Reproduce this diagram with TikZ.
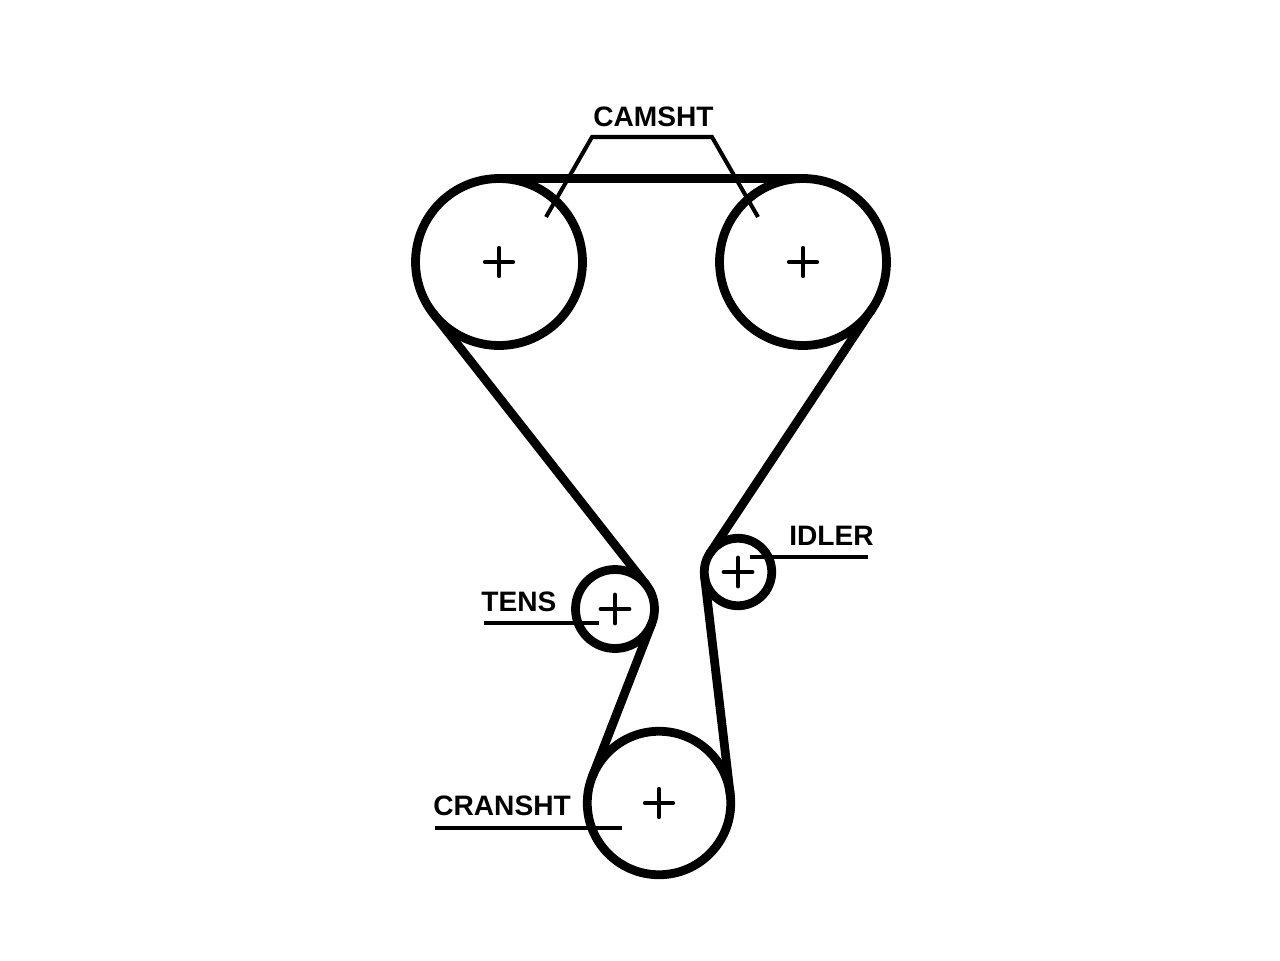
\documentclass[tikz,border=0pt]{standalone}
\usepackage{fontspec}
\setmainfont{Liberation Sans}
\tikzstyle{beltDiagram} = [x = .02cm, y = -.02cm]
\tikzstyle{pulleyStyle} = [circle, draw = black, line width = 5pt, inner sep = 0pt, outer sep = 0pt]
\tikzstyle{beltLine} = [color=black, line width = 5pt, line cap=round]
\tikzstyle{leaderLine} = [color=black, line width = 2.3pt]
\tikzstyle{crossLine} = [color=black, line cap=round]
\tikzstyle{pulleyText} = [anchor = base west, inner sep = 0pt, font=\fontsize{16}{18}\selectfont\bfseries]
\newcommand{\centreCross}[2]{\draw [crossLine, line width = #2] (#1) +(-14,0) -- +(14,0) (#1) +(0,-14) -- +(0,14);}
\begin{document}
\begin{tikzpicture}[beltDiagram]
  \useasboundingbox (0,0) rectangle (1280,960);
  % pulleys
  \node [pulleyStyle, minimum size = 3.34cm] (camLeft) at (499,262) {};
  \node [pulleyStyle, minimum size = 3.34cm] (camRight) at (803,262) {};
  \node [pulleyStyle, minimum size = 1.58cm] (tens) at (615,609) {};
  \node [pulleyStyle, minimum size = 1.35cm] (idler) at (738,572) {};
  \node [pulleyStyle, minimum size = 2.87cm] (crank) at (659,803) {};
  \foreach \pulley/\crossWidth in {camLeft/2.4pt,camRight/2.4pt,tens/2.8pt,idler/2.8pt,crank/2.4pt} {
    \centreCross{\pulley}{\crossWidth}
  }
  % belt
  \draw [beltLine] (camLeft.90) -- (camRight.90);
  \draw [beltLine] (camLeft.218.4) -- (tens.38.4);
  \draw [beltLine] (tens.338.5) -- (crank.158.5);
  \draw [beltLine] (crank.7.1) -- (idler.187.1);
  \draw [beltLine] (idler.146) -- (camRight.326);
  % labels
  \node [pulleyText] (camLabel) at (593,126) {CAMSHT};
  \node [pulleyText] (tensLabel) at (481,611) {TENS};
  \node [pulleyText] (idlerLabel) at (789,545) {IDLER};
  \node [pulleyText] (crankLabel) at (433,815) {CRANSHT};
  \coordinate (camBendLeft) at (592,137);
  \coordinate (camBendRight) at (712,137);
  \coordinate (camEndLeft) at (546,217);
  \coordinate (camEndRight) at (758,217);
  \coordinate (tensStart) at (484,623);
  \coordinate (tensEnd) at (599,623);
  \coordinate (idlerStart) at (868,557);
  \coordinate (idlerEnd) at (750,557);
  \coordinate (crankStart) at (435,828);
  \coordinate (crankEnd) at (622,828);
  \draw [leaderLine] (camEndLeft) -- (camBendLeft) -- (camBendRight) -- (camEndRight);
  \draw [leaderLine] (tensStart) -- (tensEnd);
  \draw [leaderLine] (idlerStart) -- (idlerEnd);
  \draw [leaderLine] (crankStart) -- (crankEnd);
\end{tikzpicture}
\end{document}
